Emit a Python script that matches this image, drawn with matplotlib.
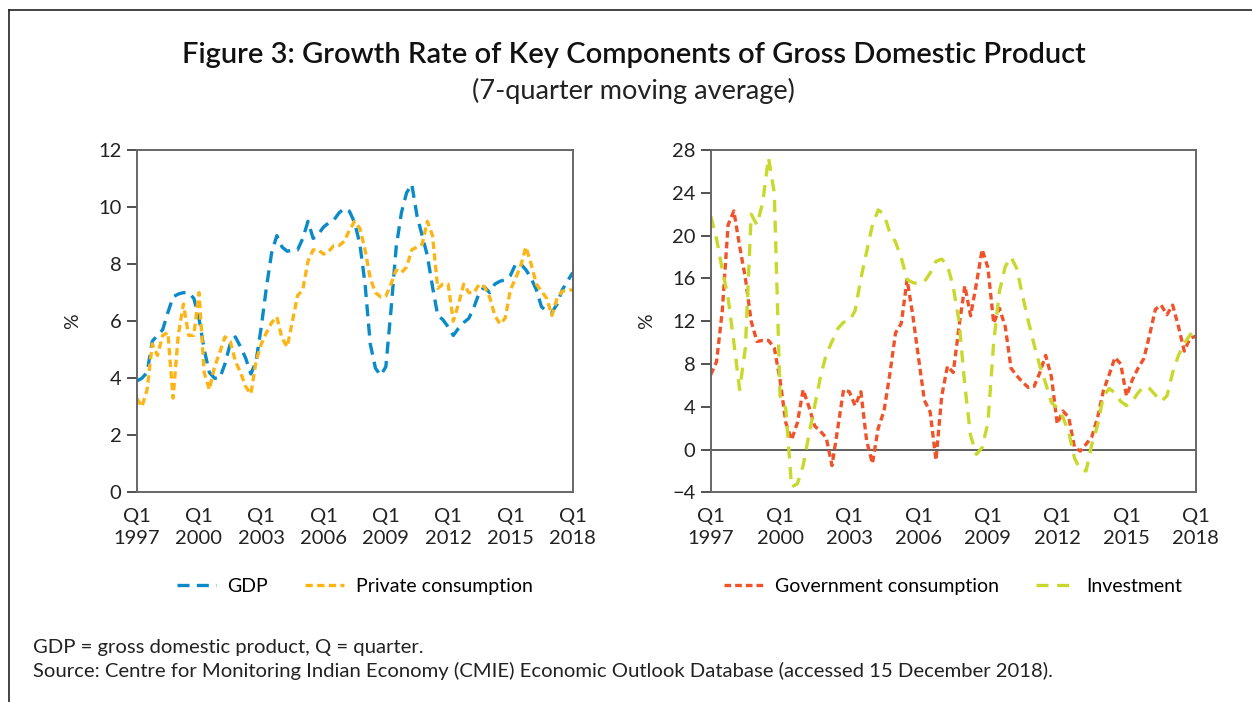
import numpy as np
from matplotlib import pyplot as plt
from matplotlib.lines import Line2D

plt.rcParams['font.family'] = ['Lato', 'DejaVu Sans']

# quarters Q1 1997 .. Q1 2018 (85 quarters)
quarters = np.arange(85)
tick_pos = [0, 12, 24, 36, 48, 60, 72, 84]
tick_labels = ['Q1\n1997', 'Q1\n2000', 'Q1\n2003', 'Q1\n2006',
               'Q1\n2009', 'Q1\n2012', 'Q1\n2015', 'Q1\n2018']

gdp = [3.9, 4.0, 4.2, 5.3, 5.5, 5.7, 6.3, 6.85, 6.95, 7.0,
       7.0, 6.8, 6.1, 5.0, 4.2, 4.0, 4.0, 4.5, 5.2, 5.45,
       5.1, 4.7, 4.15, 4.6, 5.8, 7.2, 8.4, 9.0, 8.6, 8.45,
       8.5, 8.5, 8.9, 9.5, 8.9, 9.05, 9.3, 9.45, 9.55, 9.8,
       9.95, 9.85, 9.45, 8.7, 7.3, 5.2, 4.35, 4.1, 4.4, 6.4,
       8.6, 9.8, 10.5, 10.8, 9.7, 9.0, 8.3, 7.2, 6.2, 6.05,
       5.8, 5.5, 5.75, 5.95, 6.1, 6.5, 7.0, 7.2, 7.0, 7.3,
       7.4, 7.45, 7.6, 8.0, 8.0, 7.8, 7.5, 7.1, 6.5, 6.35,
       6.3, 6.6, 7.1, 7.4, 7.7]

private_cons = [3.3, 3.0, 3.6, 5.2, 4.8, 5.5, 5.6, 3.3, 5.5, 6.6,
                5.5, 5.5, 7.0, 4.2, 3.6, 4.4, 4.9, 5.45, 5.3, 4.6,
                4.2, 3.7, 3.45, 4.6, 5.2, 5.6, 5.95, 6.15, 5.4, 5.1,
                6.0, 6.9, 7.1, 8.1, 8.5, 8.5, 8.35, 8.45, 8.65, 8.65,
                8.8, 9.2, 9.5, 9.25, 8.5, 7.5, 7.0, 6.85, 6.88, 7.3,
                7.8, 7.7, 7.9, 8.5, 8.6, 8.7, 9.5, 9.0, 7.15, 7.3,
                7.3, 6.0, 6.6, 7.3, 7.0, 7.0, 7.3, 7.2, 6.85, 6.2,
                5.9, 6.1, 7.1, 7.5, 7.95, 8.6, 8.0, 7.3, 7.05, 6.8,
                6.2, 6.8, 7.05, 7.08, 7.1]

gov_cons = [7.0, 8.2, 13.0, 21.0, 22.3, 19.0, 16.0, 12.0, 10.1, 10.2,
            10.2, 9.5, 6.5, 2.5, 0.9, 2.5, 5.6, 4.0, 2.2, 1.7,
            1.1, -1.5, 2.0, 5.6, 5.4, 4.1, 5.4, 0.8, -1.3, 2.0,
            3.6, 7.0, 10.9, 11.8, 15.9, 12.5, 8.5, 4.6, 3.5, -1.0,
            5.0, 7.8, 7.2, 11.5, 15.3, 12.5, 15.5, 18.7, 17.0, 11.8,
            13.2, 11.5, 7.6, 6.9, 6.3, 5.8, 5.9, 7.2, 8.8, 6.8,
            2.4, 3.6, 3.0, 0.2, -0.15, 0.5, 1.2, 3.0, 5.5, 7.0,
            8.6, 8.0, 5.0, 6.5, 7.6, 8.5, 10.7, 13.1, 13.5, 12.6,
            13.5, 11.5, 9.2, 10.4, 10.6]

investment = [21.8, 19.7, 16.8, 14.2, 10.0, 5.6, 9.5, 22.0, 21.0, 23.1,
              27.3, 24.0, 5.0, 3.8, -3.5, -3.2, -1.5, 1.4, 4.1, 6.8,
              8.9, 10.1, 11.3, 11.9, 12.0, 13.0, 16.0, 18.5, 21.0, 22.4,
              22.0, 20.3, 19.4, 17.9, 15.9, 15.6, 15.5, 15.7, 16.5, 17.6,
              17.8, 17.2, 15.2, 12.0, 6.0, 1.3, -0.45, 0.2, 2.5, 10.0,
              14.8, 17.1, 18.0, 16.9, 14.4, 12.0, 9.8, 7.8, 6.2, 4.4,
              3.9, 3.0, 1.6, -0.8, -1.9, -2.0, 0.5, 2.3, 5.0, 5.7,
              5.3, 4.5, 4.1, 4.5, 5.3, 5.9, 5.7, 5.1, 4.5, 5.0,
              7.2, 8.8, 9.9, 10.7, 11.4]

blue = '#0a8bc9'
orange = '#fdb515'
red = '#f0532a'
green = '#c9d92b'
spine_col = '#666666'
lw = 2.4

fig = plt.figure(figsize=(12.52, 7.02), dpi=100)

ax1 = fig.add_axes([0.1092, 0.2987, 0.3482, 0.4876])
ax2 = fig.add_axes([0.5677, 0.2987, 0.3874, 0.4876])


def style_axis(ax, ylim, yticks):
    for s in ax.spines.values():
        s.set_color(spine_col)
        s.set_linewidth(1.4)
    ax.set_xlim(0, 84)
    ax.set_ylim(*ylim)
    ax.set_yticks(yticks)
    ax.set_xticks(tick_pos)
    ax.set_xticklabels(tick_labels, linespacing=1.4)
    ax.tick_params(axis='x', length=0, labelsize=14.5, pad=11, colors='#222222')
    ax.tick_params(axis='y', length=7, width=1.2, color='#333333',
                   labelsize=14.5, pad=4, labelcolor='#222222')
    ax.set_ylabel('%', fontsize=14, color='#222222', labelpad=12)


ax1.plot(quarters, gdp, color=blue, lw=lw, dashes=(3.6, 2.2), label='GDP')
ax1.plot(quarters, private_cons, color=orange, lw=lw, dashes=(2.2, 1.3),
         label='Private consumption')
style_axis(ax1, (0, 12), np.arange(0, 13, 2))

ax2.axhline(0, color='#444444', lw=1.2)
ax2.plot(quarters, gov_cons, color=red, lw=lw, dashes=(2.0, 1.2),
         label='Government consumption')
ax2.plot(quarters, investment, color=green, lw=lw, dashes=(3.6, 2.6),
         label='Investment')
style_axis(ax2, (-4, 28), np.arange(-4, 29, 4))

for ax in (ax1, ax2):
    ax.legend(loc='upper center', bbox_to_anchor=(0.5, -0.2), ncol=2,
              frameon=False, fontsize=14, handlelength=2.0,
              columnspacing=1.9, handletextpad=0.6)

fig.text(0.506, 0.922, 'Figure 3: Growth Rate of Key Components of Gross Domestic Product',
         ha='center', va='center', fontsize=21, fontweight='semibold',
         color='#111111')
fig.text(0.506, 0.870, '(7-quarter moving average)', ha='center', va='center',
         fontsize=19.5, color='#222222')

fig.text(0.026, 0.077, 'GDP = gross domestic product, Q = quarter.',
         ha='left', va='center', fontsize=14.6, color='#222222')
fig.text(0.026, 0.044, 'Source: Centre for Monitoring Indian Economy (CMIE) '
         'Economic Outlook Database (accessed 15 December 2018).',
         ha='left', va='center', fontsize=14.6, color='#222222')

# frame lines at top and left of the figure
fig.add_artist(Line2D([0.0072, 1.0], [0.986, 0.986], color='#222222', lw=1.2))
fig.add_artist(Line2D([0.0072, 0.0072], [0.0, 0.986], color='#222222', lw=1.2))

fig.savefig('out.png', dpi=100)
